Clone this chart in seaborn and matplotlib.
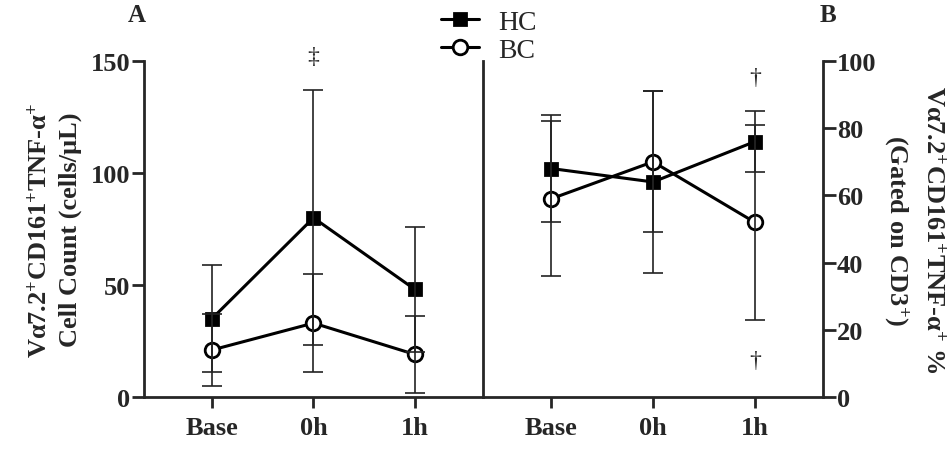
import numpy as np
import pandas as pd
import matplotlib
matplotlib.use('Agg')
import matplotlib.pyplot as plt
from matplotlib.lines import Line2D
import seaborn as sns

# time points and group means / SD
times = ['Base', '0h', '1h']
groups = ['HC', 'BC']

count_hc = [35, 80, 48]
count_hc_sd = [24, 57, 28]
count_bc = [21, 33, 19]
count_bc_sd = [16, 22, 17]

pct_hc = [68, 64, 76]
pct_hc_sd = [16, 27, 9]
pct_bc = [59, 70, 52]
pct_bc_sd = [23, 21, 29]

sns.set_style('ticks')
plt.rcParams['font.family'] = ['Liberation Serif', 'DejaVu Serif']
plt.rcParams['mathtext.fontset'] = 'custom'
plt.rcParams['mathtext.rm'] = 'Liberation Serif:bold'
plt.rcParams['mathtext.bf'] = 'Liberation Serif:bold'
plt.rcParams['mathtext.default'] = 'rm'

FS = 19


def make_df(hc, hc_sd, bc, bc_sd):
    rows = []
    for g, vals, sds in [('HC', hc, hc_sd), ('BC', bc, bc_sd)]:
        for i, t in enumerate(times):
            rows.append({'time': t, 'pos': i, 'group': g, 'value': vals[i], 'sd': sds[i]})
    return pd.DataFrame(rows)


df_count = make_df(count_hc, count_hc_sd, count_bc, count_bc_sd)
df_pct = make_df(pct_hc, pct_hc_sd, pct_bc, pct_bc_sd)

styles = {
    'HC': dict(marker='s', markersize=9, markerfacecolor='black'),
    'BC': dict(marker='o', markersize=10.5, markerfacecolor='white'),
}

fig = plt.figure(figsize=(9.51, 4.64), dpi=100)
ax1 = fig.add_axes([0.1514, 0.1422, 0.3565, 0.7242])
ax2 = fig.add_axes([0.5079, 0.1422, 0.3575, 0.7242])


def draw_panel(ax, df):
    for g in groups:
        sub = df[df['group'] == g]
        sns.lineplot(data=sub, x='pos', y='value', color='black', linewidth=2.2,
                     markeredgecolor='black', markeredgewidth=2, errorbar=None,
                     ax=ax, zorder=2, **styles[g])
        ax.errorbar(sub['pos'], sub['value'], yerr=sub['sd'], fmt='none',
                    ecolor='#222222', elinewidth=1.2, capsize=7, capthick=1.2, zorder=3)
    ax.set_xlim(-0.67, 2.67)
    ax.set_xticks(range(len(times)))
    ax.set_xticklabels(times)
    ax.set_xlabel('')
    ax.tick_params(axis='x', width=2, length=8, pad=6)
    ax.tick_params(axis='y', width=2, length=9, pad=1)
    for s in ax.spines.values():
        s.set_linewidth(2)


draw_panel(ax1, df_count)
draw_panel(ax2, df_pct)

# panel A
ax1.set_ylim(0, 150)
ax1.set_yticks([0, 50, 100, 150])
ax1.spines['right'].set_visible(False)
ax1.spines['top'].set_visible(False)
ax1.set_ylabel('V\u03b17.2$^{+}$CD161$^{+}$TNF-\u03b1$^{+}$\nCell Count (cells/\u03bcL)',
               fontsize=FS, fontweight='bold', labelpad=6, linespacing=1.4)
ax1.text(1, 152, '\u2021', ha='center', va='center', fontsize=17, clip_on=False)

# panel B
ax2.set_ylim(0, 100)
ax2.set_yticks([0, 20, 40, 60, 80, 100])
ax2.yaxis.tick_right()
ax2.yaxis.set_label_position('right')
ax2.spines['top'].set_visible(False)
ax2.tick_params(axis='y', left=False, labelleft=False, right=True, labelright=True)
ax2.set_ylabel('V\u03b17.2$^{+}$CD161$^{+}$TNF-\u03b1$^{+}$ %\n(Gated on CD3$^{+}$)',
               fontsize=FS, fontweight='bold', rotation=270, labelpad=50, linespacing=1.55)
ax2.text(2, 95, '\u2020', ha='center', va='center', fontsize=17, clip_on=False)
ax2.text(2, 11, '\u2020', ha='center', va='center', fontsize=17, clip_on=False)

for ax in (ax1, ax2):
    for lab in ax.get_xticklabels() + ax.get_yticklabels():
        lab.set_fontweight('bold')
        lab.set_fontsize(FS)

fig.text(0.144, 0.966, 'A', fontsize=18, fontweight='bold', ha='center', va='center')
fig.text(0.871, 0.966, 'B', fontsize=18, fontweight='bold', ha='center', va='center')

handles = [Line2D([], [], color='black', linewidth=2.2, markeredgecolor='black',
                  markeredgewidth=2, **styles[g]) for g in groups]
fig.legend(handles, groups, loc='upper left', bbox_to_anchor=(0.449, 1.008),
           frameon=False, fontsize=20, handlelength=1.37, handletextpad=0.68,
           labelspacing=0.1, borderaxespad=0.1)

plt.savefig('out.png', dpi=100)
